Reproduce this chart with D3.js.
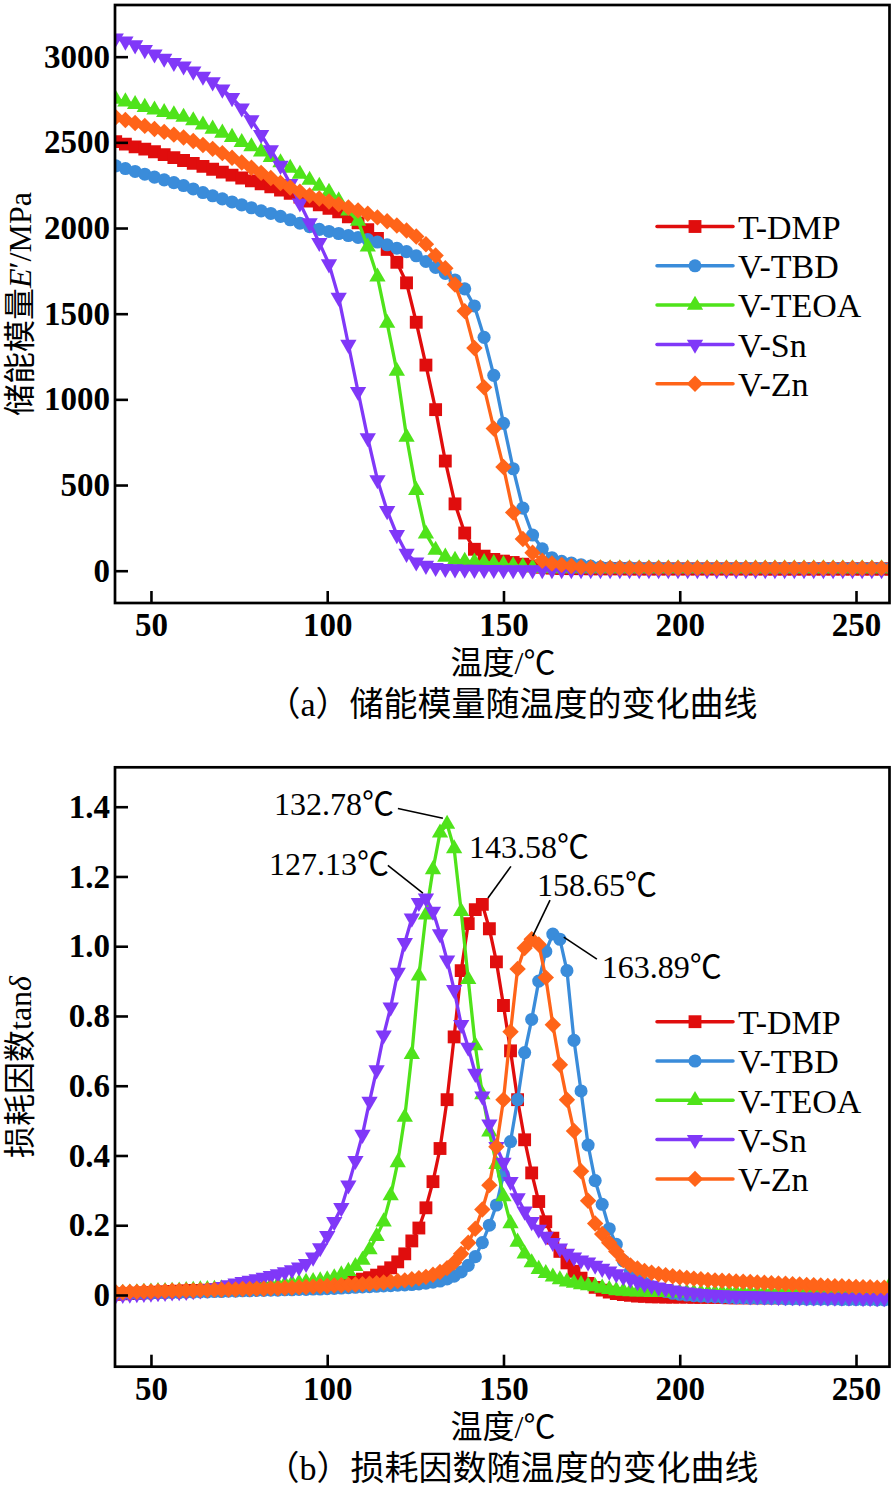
<!DOCTYPE html>
<html><head><meta charset="utf-8">
<script src="https://cdn.jsdelivr.net/npm/d3@7"></script>
<style>body{margin:0;background:#fff} svg{display:block;background:#fff}</style>
</head><body>
<svg id="c" width="895" height="1487"></svg>
<script>
// ---------- data ----------
const seriesNames = ["T-DMP", "V-TBD", "V-TEOA", "V-Sn", "V-Zn"];
const seriesColors = ["#E00D0D", "#3A8CDA", "#4FE31A", "#8038F8", "#FF6419"];

const xTickValues = [50, 100, 150, 200, 250];
const xTickLabels = ["50", "100", "150", "200", "250"];
const yTickValuesA = [0, 500, 1000, 1500, 2000, 2500, 3000];
const yTickLabelsA = ["0", "500", "1000", "1500", "2000", "2500", "3000"];
const yTickValuesB = [0, 0.2, 0.4, 0.6, 0.8, 1.0, 1.2, 1.4];
const yTickLabelsB = ["0", "0.2", "0.4", "0.6", "0.8", "1.0", "1.2", "1.4"];

// (a) storage modulus, temperature (°C)
const tempA = [
 40,42.75,45.5,48.25,51,53.75,56.5,59.25,62,64.75,
 67.5,70.25,73,75.75,78.5,81.25,84,86.75,89.5,92.25,
 95,97.75,100.5,103.25,106,108.75,111.5,114.25,117,119.75,
 122.5,125.25,128,130.75,133.5,136.25,139,141.75,144.5,147.25,
 150,152.75,155.5,158.25,161,163.75,166.5,169.25,172,174.75,
 177.5,180.25,183,185.75,188.5,191.25,194,196.75,199.5,202.25,
 205,207.75,210.5,213.25,216,218.75,221.5,224.25,227,229.75,
 232.5,235.25,238,240.75,243.5,246.25,249,251.75,254.5,257.25,
 260];
const storageTDMP = [
 2504,2490,2474,2460,2445,2428,2411,2394,2377,2360,
 2343,2326,2309,2292,2275,2258,2240,2222,2202,2181,
 2157,2135,2115,2095,2065,2030,1990,1940,1875,1800,
 1680,1450,1200,940,640,390,220,125,85,66,
 56,48,38,28,20,15,13,12,12,11,
 11,11,11,10,10,10,10,10,10,10,
 10,10,10,10,10,10,10,10,10,10,
 10,10,10,10,10,10,10,10,10,10,
 10];
const storageVTBD = [
 2363,2347,2330,2314,2297,2281,2265,2248,2228,2207,
 2188,2170,2152,2135,2118,2100,2085,2068,2048,2028,
 2008,1992,1980,1968,1956,1945,1932,1918,1902,1882,
 1862,1838,1805,1770,1735,1697,1645,1545,1362,1140,
 860,595,365,208,128,76,55,45,35,27,
 22,19,18,18,17,17,17,16,16,16,
 16,16,16,16,16,16,16,16,16,16,
 16,16,16,16,16,16,16,16,16,16,
 16];
const storageVTEOA = [
 2752,2737,2722,2705,2690,2675,2662,2647,2627,2602,
 2578,2555,2530,2500,2475,2445,2413,2382,2350,2315,
 2280,2245,2210,2160,2100,2040,1890,1715,1445,1165,
 780,470,215,120,80,62,56,52,48,42,
 36,30,24,18,14,12,12,12,12,12,
 12,12,12,12,12,12,12,12,12,12,
 12,12,12,12,12,12,12,12,12,12,
 12,12,12,12,12,12,12,12,12,12,
 12];
const storageVSn = [
 3108,3090,3068,3040,3015,2990,2965,2945,2915,2885,
 2852,2810,2760,2700,2630,2545,2455,2365,2258,2145,
 2030,1915,1790,1595,1320,1045,775,530,350,210,
 100,50,30,18,12,10,8,7,6,6,
 5,5,5,5,5,5,5,5,5,5,
 5,5,5,5,5,5,5,5,5,5,
 5,5,5,5,5,5,5,5,5,5,
 5,5,5,5,5,5,5,5,5,5,
 5];
const storageVZn = [
 2646,2630,2613,2596,2578,2561,2545,2528,2508,2485,
 2462,2437,2410,2382,2352,2322,2292,2263,2237,2212,
 2190,2172,2155,2138,2120,2102,2083,2062,2040,2015,
 1985,1950,1905,1840,1765,1670,1515,1300,1070,830,
 605,340,185,105,58,42,34,27,21,18,
 17,16,16,15,15,15,15,15,15,15,
 15,15,15,15,15,15,15,15,15,15,
 15,15,15,15,15,15,15,15,15,15,
 15];

// (b) loss factor tan delta
const tempB = [
 40,42,44,46,48,50,52,54,56,58,
 60,62,64,66,68,70,72,74,76,78,
 80,82,84,86,88,90,92,94,96,98,
 100,102,104,106,108,110,112,114,116,118,
 120,122,124,126,128,130,132,134,136,138,
 140,142,144,146,148,150,152,154,156,158,
 160,162,164,166,168,170,172,174,176,178,
 180,182,184,186,188,190,192,194,196,198,
 200,202,204,206,208,210,212,214,216,218,
 220,222,224,226,228,230,232,234,236,238,
 240,242,244,246,248,250,252,254,256,258,
 260];
const tanTDMP = [
 0.002,0.003,0.004,0.005,0.006,0.007,0.008,0.009,0.010,0.011,
 0.012,0.013,0.013,0.014,0.015,0.015,0.016,0.016,0.017,0.017,
 0.018,0.018,0.019,0.019,0.020,0.020,0.022,0.024,0.026,0.028,
 0.030,0.032,0.034,0.036,0.040,0.045,0.050,0.057,0.066,0.078,
 0.095,0.118,0.155,0.192,0.250,0.325,0.420,0.560,0.740,0.930,
 1.065,1.105,1.120,1.050,0.955,0.830,0.700,0.560,0.445,0.350,
 0.268,0.210,0.163,0.125,0.092,0.068,0.048,0.033,0.022,0.014,
 0.008,0.004,0.001,-0.001,-0.003,-0.004,-0.005,-0.005,-0.006,-0.006,
 -0.006,-0.006,-0.007,-0.007,-0.007,-0.007,-0.007,-0.008,-0.008,-0.008,
 -0.008,-0.008,-0.008,-0.008,-0.008,-0.008,-0.008,-0.008,-0.008,-0.008,
 -0.008,-0.008,-0.008,-0.008,-0.008,-0.008,-0.008,-0.008,-0.008,-0.008,
 -0.008];
const tanVTBD = [
 0.003,0.003,0.004,0.004,0.005,0.005,0.006,0.006,0.007,0.007,
 0.008,0.008,0.009,0.009,0.010,0.010,0.011,0.011,0.012,0.012,
 0.013,0.013,0.014,0.014,0.015,0.015,0.016,0.016,0.017,0.017,
 0.018,0.019,0.020,0.021,0.022,0.023,0.024,0.025,0.026,0.027,
 0.028,0.029,0.030,0.032,0.034,0.037,0.040,0.046,0.054,0.066,
 0.085,0.110,0.150,0.200,0.258,0.345,0.440,0.560,0.695,0.790,
 0.900,0.985,1.035,1.020,0.930,0.730,0.585,0.430,0.328,0.260,
 0.190,0.145,0.098,0.068,0.048,0.034,0.024,0.016,0.010,0.005,
 0.002,0.000,-0.002,-0.003,-0.004,-0.005,-0.006,-0.007,-0.008,-0.008,
 -0.009,-0.009,-0.010,-0.010,-0.010,-0.011,-0.011,-0.011,-0.012,-0.012,
 -0.012,-0.012,-0.012,-0.013,-0.013,-0.013,-0.013,-0.013,-0.014,-0.014,
 -0.014];
const tanVTEOA = [
 0.004,0.005,0.006,0.007,0.008,0.009,0.010,0.010,0.011,0.012,
 0.013,0.014,0.015,0.016,0.017,0.018,0.019,0.020,0.021,0.022,
 0.024,0.025,0.027,0.029,0.031,0.033,0.035,0.037,0.039,0.041,
 0.044,0.050,0.058,0.068,0.082,0.100,0.130,0.168,0.210,0.285,
 0.380,0.510,0.690,0.915,1.090,1.220,1.325,1.350,1.280,1.100,
 0.905,0.715,0.575,0.468,0.375,0.282,0.205,0.152,0.118,0.093,
 0.074,0.062,0.052,0.044,0.038,0.034,0.030,0.027,0.024,0.020,
 0.016,0.013,0.011,0.010,0.009,0.009,0.008,0.008,0.008,0.007,
 0.007,0.007,0.007,0.007,0.007,0.007,0.007,0.007,0.007,0.007,
 0.006,0.006,0.006,0.006,0.006,0.006,0.006,0.006,0.006,0.006,
 0.006,0.006,0.006,0.006,0.006,0.006,0.006,0.006,0.006,0.006,
 0.035];
const tanVSn = [
 0.000,0.001,0.002,0.003,0.004,0.005,0.006,0.007,0.008,0.009,
 0.010,0.012,0.014,0.017,0.020,0.024,0.029,0.034,0.038,0.042,
 0.046,0.050,0.055,0.060,0.066,0.072,0.080,0.090,0.108,0.135,
 0.170,0.210,0.250,0.315,0.385,0.460,0.555,0.645,0.745,0.825,
 0.925,1.010,1.080,1.125,1.138,1.100,1.035,0.960,0.875,0.775,
 0.710,0.635,0.570,0.490,0.425,0.380,0.325,0.278,0.240,0.210,
 0.188,0.168,0.150,0.134,0.119,0.108,0.100,0.094,0.085,0.076,
 0.068,0.060,0.052,0.045,0.038,0.032,0.027,0.022,0.018,0.014,
 0.011,0.008,0.006,0.004,0.002,0.001,0.000,-0.001,-0.002,-0.002,
 -0.003,-0.003,-0.004,-0.004,-0.005,-0.005,-0.005,-0.006,-0.006,-0.006,
 -0.006,-0.007,-0.007,-0.007,-0.007,-0.007,-0.008,-0.008,-0.008,-0.008,
 -0.008];
const tanVZn = [
 0.008,0.008,0.009,0.009,0.010,0.010,0.011,0.011,0.012,0.012,
 0.013,0.013,0.014,0.014,0.015,0.015,0.016,0.016,0.017,0.017,
 0.018,0.018,0.019,0.019,0.020,0.021,0.022,0.023,0.024,0.025,
 0.026,0.027,0.028,0.029,0.030,0.031,0.032,0.034,0.036,0.038,
 0.040,0.042,0.045,0.048,0.052,0.058,0.066,0.077,0.093,0.118,
 0.150,0.190,0.245,0.315,0.425,0.560,0.755,0.935,0.995,1.020,
 1.005,0.910,0.775,0.660,0.560,0.470,0.355,0.270,0.205,0.175,
 0.150,0.125,0.100,0.085,0.076,0.069,0.064,0.060,0.057,0.054,
 0.051,0.049,0.047,0.045,0.043,0.042,0.041,0.040,0.039,0.038,
 0.037,0.036,0.035,0.034,0.033,0.032,0.031,0.030,0.029,0.028,
 0.027,0.026,0.025,0.025,0.024,0.023,0.022,0.022,0.021,0.021,
 0.020];

// peak annotations (b): label, leader from (t1,v1) to (t2,v2), text start (tt,tv)
const peakLabels = ["132.78℃", "127.13℃", "143.58℃", "158.65℃", "163.89℃"];
const peakLeaders = [
 [120.05, 1.395, 132.81, 1.367],
 [117.2, 1.232, 127.14, 1.152],
 [152.1, 1.229, 145.6, 1.138],
 [163.2, 1.132, 158.3, 1.029],
 [176.5, 0.963, 167.1, 1.026]];
const peakTextPos = [[84.9, 1.410], [83.5, 1.238], [140.2, 1.287], [159.5, 1.178], [177.9, 0.943]];

// ---------- drawing ----------
const LATIN = "'Liberation Serif','Times New Roman',serif";
const MIXED = "'Liberation Serif','Noto Sans CJK SC',serif";

const markerTypes = [d3.symbolSquare, d3.symbolCircle, d3.symbolTriangle, d3.symbolTriangle, d3.symbolSquare];
const markerRot = [0, 0, 0, 180, 45];
const markerSizes = [165, 135, 115, 115, 135];

const svg = d3.select("#c");
svg.append("rect").attr("width", 895).attr("height", 1487).attr("fill", "#fff");
const defs = svg.append("defs");
const plotLeft = 115, plotRight = 889.5;
const x = d3.scaleLinear().domain([39.8, 259.5]).range([plotLeft, plotRight]);

function panel(cfg) {
  const y = d3.scaleLinear().domain(cfg.yDomain).range([cfg.bottom, cfg.top]);
  const g = svg.append("g");
  defs.append("clipPath").attr("id", "clip" + cfg.id).append("rect")
    .attr("x", plotLeft).attr("y", cfg.top)
    .attr("width", plotRight - plotLeft).attr("height", cfg.bottom - cfg.top);
  const plot = g.append("g").attr("clip-path", `url(#clip${cfg.id})`);
  cfg.values.forEach((vals, si) => {
    const pts = cfg.temps.map((t, i) => [t, vals[i]]);
    plot.append("path")
      .attr("d", d3.line().x(d => x(d[0])).y(d => y(d[1]))(pts))
      .attr("fill", "none").attr("stroke", seriesColors[si])
      .attr("stroke-width", 3.3).attr("stroke-linejoin", "round");
    const sym = d3.symbol().type(markerTypes[si]).size(markerSizes[si]);
    plot.append("g").selectAll("path").data(pts).join("path")
      .attr("d", sym)
      .attr("transform", d => `translate(${x(d[0])},${y(d[1])}) rotate(${markerRot[si]})`)
      .attr("fill", seriesColors[si]);
  });

  // axes
  const gx = g.append("g").attr("transform", `translate(0,${cfg.bottom})`)
    .call(d3.axisBottom(x).tickValues(xTickValues).tickSizeInner(-12).tickSizeOuter(0)
      .tickPadding(10).tickFormat((d, i) => xTickLabels[i]));
  const gy = g.append("g").attr("transform", `translate(${plotLeft},0)`)
    .call(d3.axisLeft(y).tickValues(cfg.yTicks).tickSizeInner(-13).tickSizeOuter(0)
      .tickPadding(5).tickFormat((d, i) => cfg.yLabels[i]));
  [gx, gy].forEach(a => {
    a.select(".domain").remove();
    a.selectAll(".tick line").attr("stroke", "#000").attr("stroke-width", 2.6);
    a.selectAll(".tick text").attr("font-family", LATIN).attr("font-size", 33)
      .attr("font-weight", "bold").attr("fill", "#000");
  });
  g.append("rect").attr("x", plotLeft).attr("y", cfg.top)
    .attr("width", plotRight - plotLeft).attr("height", cfg.bottom - cfg.top)
    .attr("fill", "none").attr("stroke", "#000").attr("stroke-width", 2.7);

  // legend
  const lg = g.append("g");
  seriesNames.forEach((name, si) => {
    const ly = cfg.legendY + si * 39.3;
    lg.append("line").attr("x1", 657).attr("x2", 733).attr("y1", ly).attr("y2", ly)
      .attr("stroke", seriesColors[si]).attr("stroke-width", 3.5).attr("stroke-linecap", "round");
    lg.append("path").attr("d", d3.symbol().type(markerTypes[si]).size(markerSizes[si])())
      .attr("transform", `translate(695,${ly}) rotate(${markerRot[si]})`)
      .attr("fill", seriesColors[si]);
    lg.append("text").attr("x", 738).attr("y", ly).attr("dy", "0.36em")
      .attr("font-family", LATIN).attr("font-size", 34).attr("fill", "#000").text(name);
  });

  // axis titles
  g.append("text").attr("x", 503).attr("y", cfg.bottom + 71).attr("text-anchor", "middle")
    .attr("font-family", MIXED).attr("font-size", 32).attr("fill", "#000").text("温度/℃");
  g.append("text").attr("x", 512).attr("y", cfg.bottom + 113).attr("text-anchor", "middle")
    .attr("font-family", MIXED).attr("font-size", 34).attr("fill", "#000").text(cfg.caption);
  const yt = g.append("text")
    .attr("transform", `translate(31,${(cfg.top + cfg.bottom) / 2}) rotate(-90)`)
    .attr("text-anchor", "middle").attr("font-family", MIXED).attr("font-size", 32).attr("fill", "#000");
  cfg.yTitle.forEach(p => {
    const t = yt.append("tspan").text(p.t);
    if (p.i) t.attr("font-style", "italic");
  });
  return { g, y };
}

panel({
  id: "a", top: 5, bottom: 603, yDomain: [-188.5, 3301.6],
  yTicks: yTickValuesA, yLabels: yTickLabelsA, temps: tempA,
  values: [storageTDMP, storageVTBD, storageVTEOA, storageVSn, storageVZn],
  legendY: 226.5, caption: "（a）储能模量随温度的变化曲线",
  yTitle: [{ t: "储能模量" }, { t: "E", i: true }, { t: "′/MPa" }]
});

const pb = panel({
  id: "b", top: 767.3, bottom: 1366.7, yDomain: [-0.2056, 1.513],
  yTicks: yTickValuesB, yLabels: yTickLabelsB, temps: tempB,
  values: [tanTDMP, tanVTBD, tanVTEOA, tanVSn, tanVZn],
  legendY: 1021.7, caption: "（b）损耗因数随温度的变化曲线",
  yTitle: [{ t: "损耗因数tan" }, { t: "δ", i: true }]
});

// peak annotations
peakLabels.forEach((lab, i) => {
  const [t1, v1, t2, v2] = peakLeaders[i];
  pb.g.append("line").attr("x1", x(t1)).attr("y1", pb.y(v1)).attr("x2", x(t2)).attr("y2", pb.y(v2))
    .attr("stroke", "#000").attr("stroke-width", 1.6);
  const [tt, tv] = peakTextPos[i];
  pb.g.append("text").attr("x", x(tt)).attr("y", pb.y(tv)).attr("dy", "0.36em")
    .attr("font-family", MIXED).attr("font-size", 32).attr("fill", "#000").text(lab);
});
</script>
</body></html>
